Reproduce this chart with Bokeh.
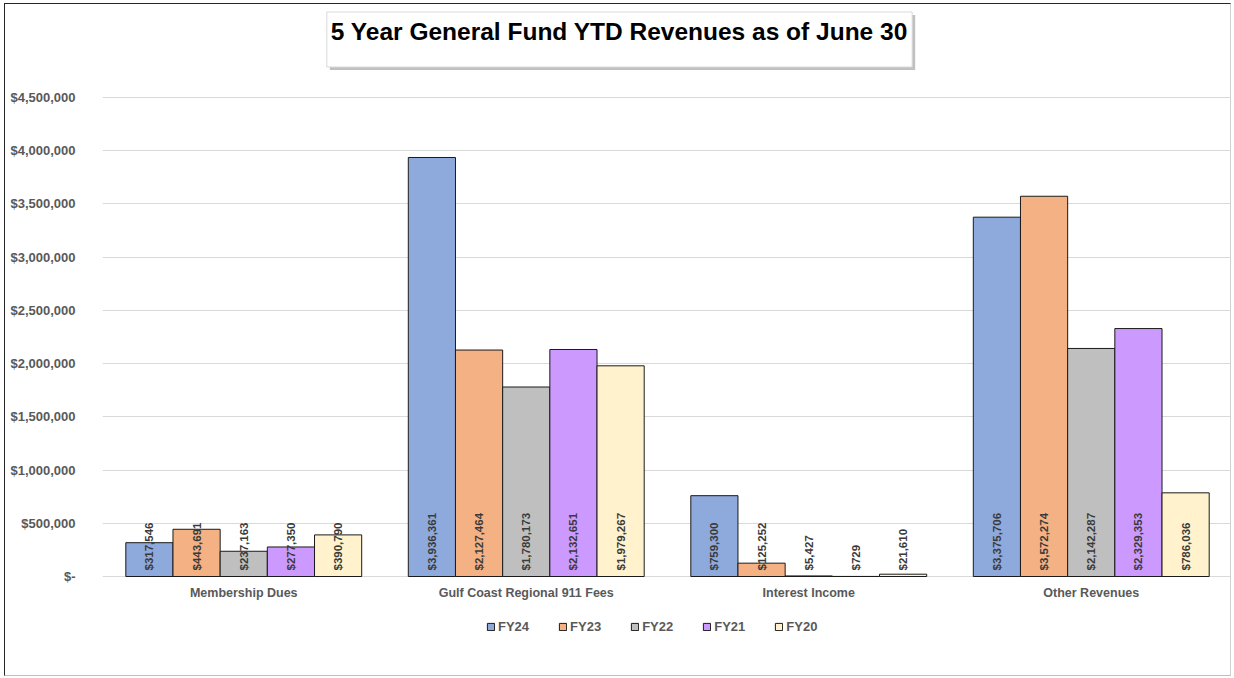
from math import pi
from bokeh.plotting import figure
from bokeh.models import (ColumnDataSource, FactorRange, Range1d, LabelSet, Label,
                          Legend, LegendItem, CustomJSTickFormatter)
from bokeh.transform import dodge
from bokeh.core.properties import value
from bokeh.embed import file_html
from bokeh.resources import INLINE

categories = ["Membership Dues", "Gulf Coast Regional 911 Fees", "Interest Income", "Other Revenues"]
years = ["FY24", "FY23", "FY22", "FY21", "FY20"]
fy24 = [317546, 3936361, 759300, 3375706]
fy23 = [443691, 2127464, 125252, 3572274]
fy22 = [237163, 1780173, 5427, 2142287]
fy21 = [277350, 2132651, 729, 2329353]
fy20 = [390790, 1979267, 21610, 786036]
series = [fy24, fy23, fy22, fy21, fy20]
colors = ["#8EA9DB", "#F4B183", "#BFBFBF", "#CC99FF", "#FFF2CC"]
yticks = [0, 500000, 1000000, 1500000, 2000000, 2500000, 3000000, 3500000, 4000000, 4500000]
title_text = "5 Year General Fund YTD Revenues as of June 30"

FONT = "Liberation Sans"

data = dict(cat=categories)
for yr, vals in zip(years, series):
    data[yr] = vals
    data[yr + "_lbl"] = ["${:,}".format(v) for v in vals]
src = ColumnDataSource(data)

# frame covers the whole canvas; value axis maps 0..4.5M onto 479 px
W, H = 1227, 673
zero_from_bottom = 101
px_per_unit = 479 / 4500000
y0 = -zero_from_bottom / px_per_unit
y1 = (H - zero_from_bottom) / px_per_unit

p = figure(x_range=FactorRange(*categories), y_range=Range1d(y0, y1),
           width=W, height=H, output_backend="svg", toolbar_location=None,
           x_axis_location=None,
           min_border_left=97, min_border_right=0, min_border_top=0, min_border_bottom=0)
p.styles = {"margin-left": "4px", "margin-top": "3px",
            "border-left": "1px solid #262626", "border-top": "1px solid #262626",
            "border-right": "1px solid #D0D0D0", "border-bottom": "1px solid #BFBFBF"}
p.outline_line_color = None
p.background_fill_color = "white"
p.border_fill_color = "white"

bw = 0.167
offsets = [-2 * bw, -bw, 0, bw, 2 * bw]
items = []
for yr, off, col in zip(years, offsets, colors):
    r = p.vbar(x=dodge("cat", off, range=p.x_range), top=yr, width=bw, source=src,
               fill_color=col, line_color="#1a1a1a", line_width=1)
    items.append(LegendItem(label=yr, renderers=[r]))
    lbl = LabelSet(x=dodge("cat", off, range=p.x_range), y=0, text=yr + "_lbl", source=src,
                   angle=pi / 2, text_align="left", text_baseline="middle", y_offset=6,
                   text_font=value(FONT), text_font_style="bold", text_font_size="11.5px",
                   text_color="#3a3a3a")
    p.add_layout(lbl)

# category labels under the zero line
cat_lbl = LabelSet(x="cat", y=0, text="cat", source=src, y_offset=-16,
                   text_align="center", text_baseline="middle",
                   text_font=value(FONT), text_font_style="bold", text_font_size="12.5px",
                   text_color="#595959")
p.add_layout(cat_lbl)

# value axis
p.yaxis.formatter = CustomJSTickFormatter(code="return tick == 0 ? '$-' : '$' + tick.toLocaleString('en-US');")
p.yaxis.ticker = yticks
p.yaxis.axis_line_color = None
p.yaxis.major_tick_line_color = None
p.yaxis.minor_tick_line_color = None
p.yaxis.major_tick_out = 0
p.yaxis.major_label_standoff = 27
p.yaxis.major_label_text_font = FONT
p.yaxis.major_label_text_font_style = "bold"
p.yaxis.major_label_text_font_size = "13px"
p.yaxis.major_label_text_color = "#595959"

p.xgrid.grid_line_color = None
p.ygrid.ticker = yticks
p.ygrid.grid_line_color = "#D9D9D9"
p.ygrid.grid_line_width = 1

legend = Legend(items=items, orientation="horizontal", location=(384, 43),
                border_line_color=None, background_fill_alpha=0, padding=0, margin=0,
                spacing=29, glyph_width=9, glyph_height=9, label_standoff=3,
                label_text_font=FONT, label_text_font_style="bold",
                label_text_font_size="13px", label_text_color="#595959")
p.add_layout(legend, "center")

# title box with shadow
pad = dict(left=4, right=4, top=6, bottom=22)
shadow = Label(x=520, y=635, x_units="screen", y_units="screen", text=title_text,
               text_align="center", text_baseline="middle", text_font=FONT,
               text_font_style="bold", text_font_size="24.5px", text_color="#9a9a9a",
               background_fill_color="#8c8c8c", background_fill_alpha=0.55,
               padding=pad)
title = Label(x=517, y=638, x_units="screen", y_units="screen", text=title_text,
              text_align="center", text_baseline="middle", text_font=FONT,
              text_font_style="bold", text_font_size="24.5px", text_color="black",
              background_fill_color="white", border_line_color="#D9D9D9",
              padding=pad)
p.add_layout(shadow)
p.add_layout(title)

open("out.html", "w").write(file_html(p, INLINE))
